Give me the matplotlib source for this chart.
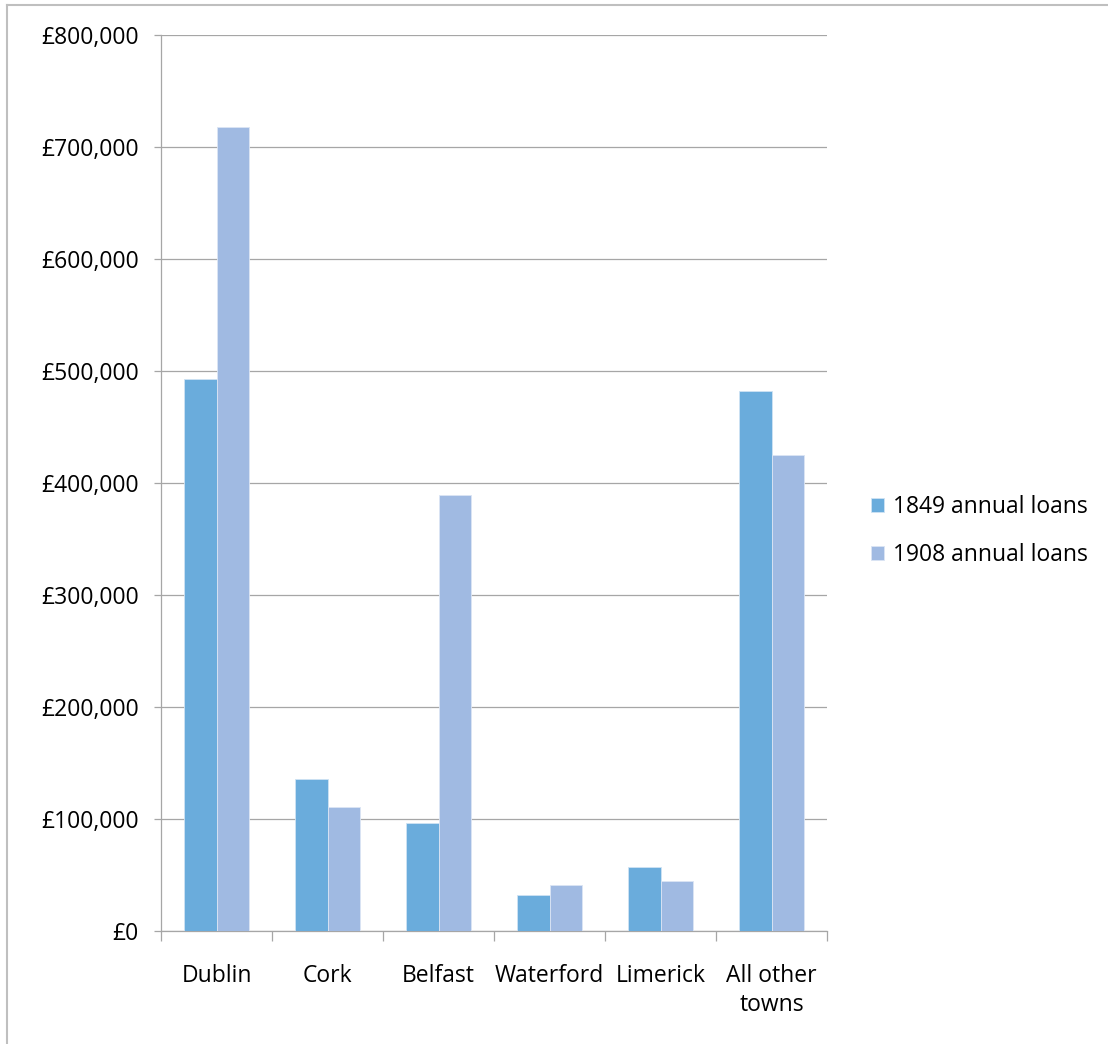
import numpy as np
import matplotlib.pyplot as plt
from matplotlib.lines import Line2D
from matplotlib.ticker import FuncFormatter

plt.rcParams['font.family'] = ['Open Sans', 'DejaVu Sans']

towns = ['Dublin', 'Cork', 'Belfast', 'Waterford', 'Limerick', 'All other\ntowns']
loans_1849 = [493000, 136000, 96000, 32000, 57000, 482000]
loans_1908 = [718000, 111000, 389000, 41000, 45000, 425000]
series_names = ['1849 annual loans', '1908 annual loans']

col_1849 = '#6aacdc'
col_1908 = '#a0bae2'
grey = '#a6a6a6'
fs = 16.5

fig = plt.figure(figsize=(11.08, 10.44), dpi=100)
ax = fig.add_axes([161/1108, 1 - 931/1044, 666/1108, 896/1044])

x = np.arange(len(towns))
w = 0.29
ax.bar(x - w/2, loans_1849, w, color=col_1849, edgecolor='#cfe3f3', linewidth=0.6,
       label=series_names[0], zorder=3)
ax.bar(x + w/2, loans_1908, w, color=col_1908, edgecolor='#dbe5f4', linewidth=0.6,
       label=series_names[1], zorder=3)

ax.set_xlim(-0.5, len(towns) - 0.5)
ax.set_ylim(0, 800000)
ax.set_yticks(np.arange(0, 800001, 100000))
ax.yaxis.set_major_formatter(FuncFormatter(lambda v, p: '£{:,.0f}'.format(v)))
ax.grid(axis='y', color=grey, linewidth=0.9, zorder=0)

ax.set_xticks(x)
ax.set_xticklabels(towns, fontsize=fs, linespacing=1.25)
ax.set_xticks(np.arange(-0.5, len(towns)), minor=True)
ax.tick_params(axis='x', which='major', length=0, pad=24)
ax.tick_params(axis='x', which='minor', length=7, width=0.9, color=grey)
ax.tick_params(axis='y', length=5, width=0.9, color=grey, pad=11, labelsize=fs)

for s in ['top', 'right']:
    ax.spines[s].set_visible(False)
for s in ['left', 'bottom']:
    ax.spines[s].set_color(grey)
    ax.spines[s].set_linewidth(0.9)

ax.legend(loc='center left', bbox_to_anchor=(1.035, 0.446), frameon=False, fontsize=fs,
          handlelength=0.55, handleheight=0.55, handletextpad=0.4, labelspacing=1.05)

# outer chart border
fig.add_artist(Line2D([7/1108, 7/1108], [0, 1 - 5/1044], transform=fig.transFigure,
                      color='#bfbfbf', linewidth=1.5))
fig.add_artist(Line2D([7/1108, 1], [1 - 5/1044, 1 - 5/1044], transform=fig.transFigure,
                      color='#bfbfbf', linewidth=1.5))

fig.savefig('out.png', dpi=100)
